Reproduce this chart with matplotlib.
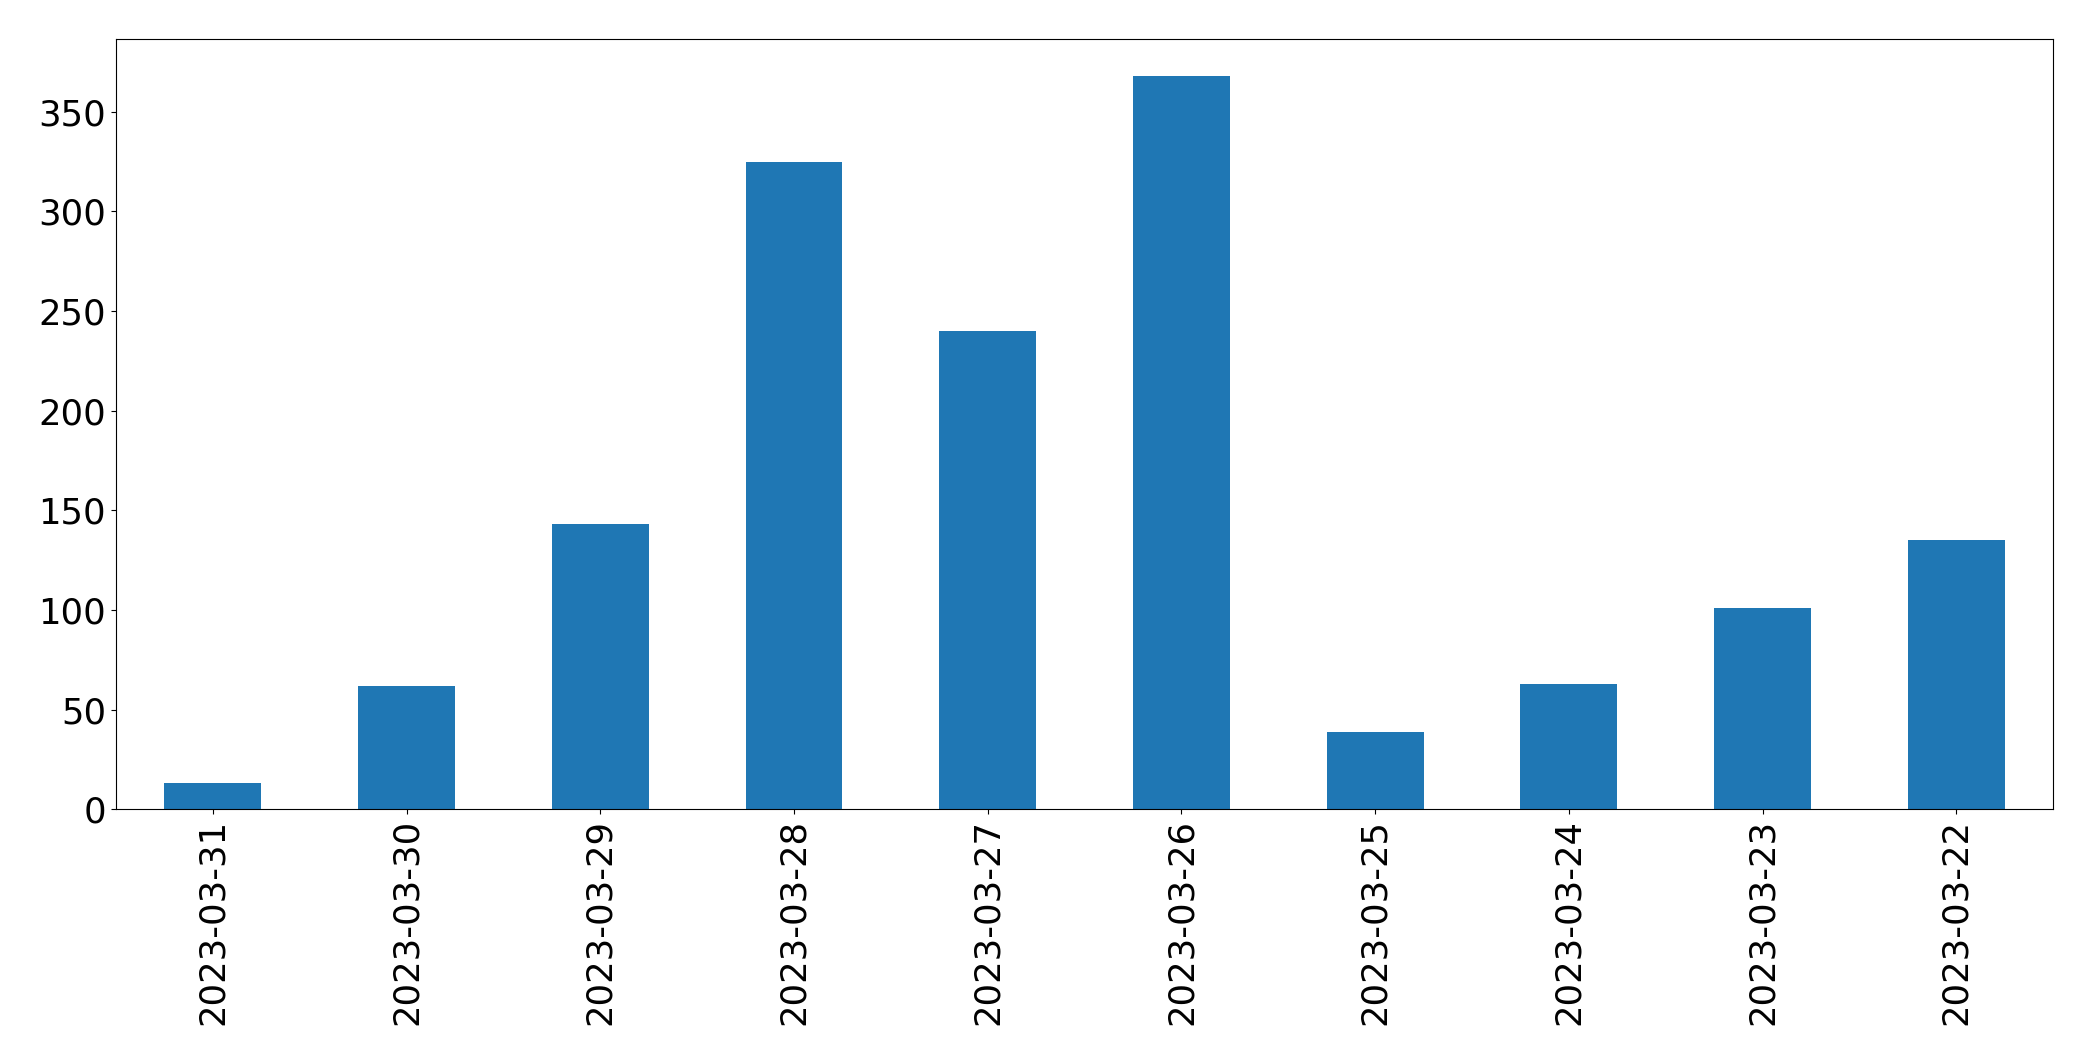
import matplotlib.pyplot as plt

dates = ['2023-03-31', '2023-03-30', '2023-03-29', '2023-03-28', '2023-03-27',
         '2023-03-26', '2023-03-25', '2023-03-24', '2023-03-23', '2023-03-22']
counts = [13, 62, 143, 325, 240, 368, 39, 63, 101, 135]

fig = plt.figure(figsize=(20.93, 10.61), dpi=100)
ax = fig.add_axes([0.0554, 0.2372, 0.9256, 0.7258])

x = range(len(dates))
ax.bar(x, counts, width=0.5, color='#1f77b4')
ax.set_xlim(-0.5, len(dates) - 0.5)
ax.set_ylim(0, max(counts) * 1.05)
ax.set_xticks(list(x))
ax.set_xticklabels(dates, rotation=90)
ax.tick_params(labelsize=25.5)

plt.savefig('out.png', dpi=100)
plt.close()
